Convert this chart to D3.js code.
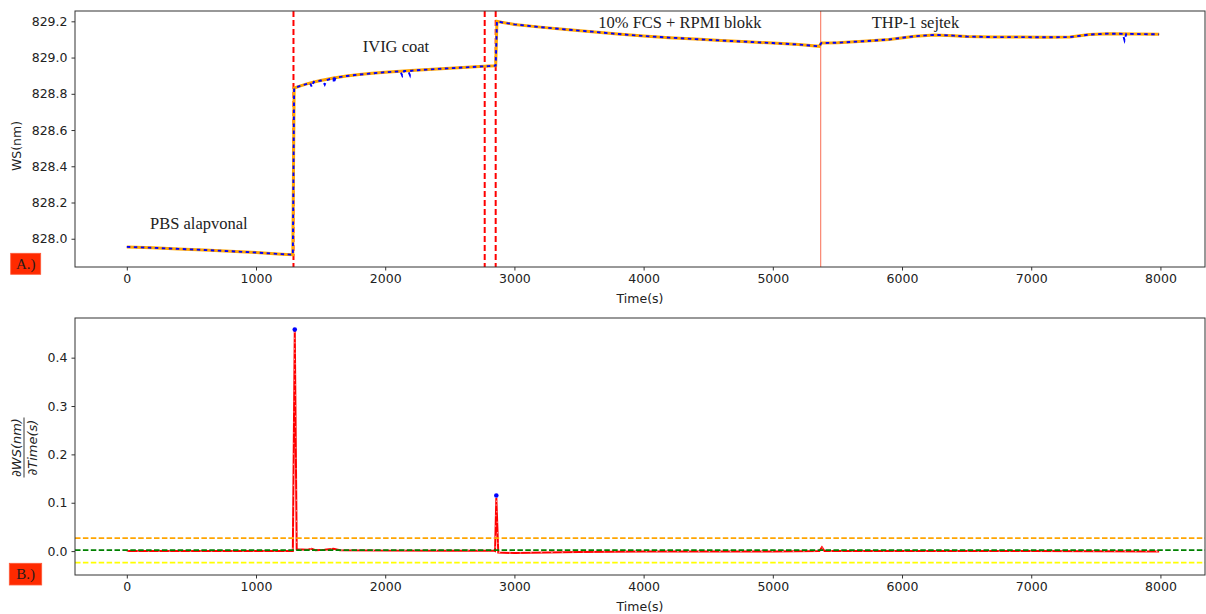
<!DOCTYPE html>
<html><head><meta charset="utf-8">
<script src="https://cdn.jsdelivr.net/npm/d3@7"></script>
<style>body{margin:0;background:#fff}svg{display:block}</style>
</head><body>
<svg id="c" width="1206" height="614"></svg>
<script>
// ---------- data ----------
const wsTime  = [0,200,400,600,800,1000,1200,1285,1295,1350,1400,1450,1500,1600,1700,1800,1900,2000,2200,2400,2600,2800,2855,2865,2900,3000,3200,3400,3600,3800,4000,4200,4400,4600,4800,5000,5200,5360,5375,5500,5700,5900,6100,6250,6400,6500,6700,6900,7100,7300,7450,7600,7800,7990];
const wsValue = [827.955,827.950,827.944,827.938,827.931,827.924,827.915,827.912,828.832,828.845,828.856,828.865,828.873,828.887,828.898,828.906,828.913,828.919,828.928,828.937,828.945,828.953,828.955,829.200,829.195,829.183,829.168,829.155,829.143,829.130,829.119,829.110,829.102,829.094,829.087,829.080,829.072,829.062,829.080,829.082,829.090,829.100,829.118,829.125,829.121,829.116,829.113,829.113,829.112,829.113,829.127,829.132,829.130,829.128];
// short dips only present in the raw (blue) trace
const dipTime  = [1418,1432,1446, 1518,1532,1546, 1588,1602,1616, 2118,2132,2146, 2178,2192,2206, 7708,7722,7736];
const dipValue = [828.859,828.838,828.866, 828.871,828.850,828.875, 828.885,828.860,828.889, 828.924,828.900,828.926, 828.926,828.902,828.928, 829.131,829.095,829.131];

const stepTimes  = [1290, 2770, 2855];   // red dashed markers
const cellTime   = [5370];               // salmon marker
const phaseLabels = ["PBS alapvonal","IVIG coat","10% FCS + RPMI blokk","THP-1 sejtek"];
const phaseTime   = [180, 1826, 3649, 5765];
const phaseValue  = [828.054, 829.033, 829.161, 829.165];

const dTime  = [0,500,1000,1270,1285,1300,1315,1400,1430,1460,1530,1600,1650,2000,2500,2840,2850,2860,2875,3000,3500,4000,5000,5360,5380,5400,6000,7000,7990];
const dValue = [0.000,0.000,0.000,0.000,0.000,0.457,0.004,0.003,0.005,0.002,0.003,0.005,0.002,0.001,0.001,0.001,0.000,0.110,-0.003,-0.004,-0.002,-0.001,-0.001,0.000,0.008,0.000,0.000,0.000,-0.001];
const peakTime  = [1300, 2860];
const peakValue = [0.458, 0.115];
const hLineValue = [0.027, 0.002, -0.024];
const hLineColor = ["orange", "green", "#ffff00"];

const xTicks  = [0,1000,2000,3000,4000,5000,6000,7000,8000];
const yTicksA = [828.0,828.2,828.4,828.6,828.8,829.0,829.2];
const yTicksB = [0.0,0.1,0.2,0.3,0.4];

// ---------- layout ----------
const svg = d3.select("#c");
const L = 75, R = 1205;
const A = {top: 11, bottom: 267};
const B = {top: 318, bottom: 575};
const x = d3.scaleLinear().domain([-401, 8345]).range([L, R]);
const yA = d3.scaleLinear().domain([827.844, 829.257]).range([A.bottom, A.top]);
const yB = d3.scaleLinear().domain([-0.0494, 0.482]).range([B.bottom, B.top]);
const tickFont = "DejaVu Sans";
const defs = svg.append("defs");
defs.append("clipPath").attr("id","clipA").append("rect").attr("x",L).attr("y",A.top).attr("width",R-L).attr("height",A.bottom-A.top);
defs.append("clipPath").attr("id","clipB").append("rect").attr("x",L).attr("y",B.top).attr("width",R-L).attr("height",B.bottom-B.top);

function axes(p, y, yTicks, fmt) {
  const gx = svg.append("g").attr("transform", `translate(0,${p.bottom})`)
    .call(d3.axisBottom(x).tickValues(xTicks).tickFormat(d3.format("d")).tickSizeOuter(0).tickSize(3.5).tickPadding(4));
  const gy = svg.append("g").attr("transform", `translate(${L},0)`)
    .call(d3.axisLeft(y).tickValues(yTicks).tickFormat(fmt).tickSizeOuter(0).tickSize(3.5).tickPadding(4));
  [gx, gy].forEach(g => {
    g.select(".domain").remove();
    g.selectAll("line").attr("stroke", "#333");
    g.selectAll("text").attr("font-family", tickFont).attr("font-size", 12.5).attr("fill", "#222");
  });
  svg.append("rect").attr("x", L).attr("y", p.top).attr("width", R - L).attr("height", p.bottom - p.top)
    .attr("fill", "none").attr("stroke", "#333").attr("stroke-width", 1);
  svg.append("text").attr("x", (L + R) / 2).attr("y", p.bottom + 36).attr("text-anchor", "middle")
    .attr("font-family", tickFont).attr("font-size", 12.5).attr("fill", "#222").text("Time(s)");
}

// ---------- panel A ----------
const gA = svg.append("g").attr("clip-path", "url(#clipA)");
stepTimes.forEach(t => gA.append("line").attr("x1", x(t)).attr("x2", x(t)).attr("y1", A.top).attr("y2", A.bottom)
  .attr("stroke", "red").attr("stroke-width", 2).attr("stroke-dasharray", "6,3"));
cellTime.forEach(t => gA.append("line").attr("x1", x(t)).attr("x2", x(t)).attr("y1", A.top).attr("y2", A.bottom)
  .attr("stroke", "#fa8c78").attr("stroke-width", 1.3));

const smooth = wsTime.map((t, i) => [t, wsValue[i]]);
const raw = smooth.concat(dipTime.map((t, i) => [t, dipValue[i]])).sort((a, b) => a[0] - b[0]);
const lineA = d3.line().x(d => x(d[0])).y(d => yA(d[1]));
gA.append("path").attr("d", lineA(smooth)).attr("fill", "none").attr("stroke", "orange").attr("stroke-width", 3);
gA.append("path").attr("d", lineA(raw)).attr("fill", "none").attr("stroke", "blue").attr("stroke-width", 1.9)
  .attr("stroke-dasharray", "3.5,3.5");

phaseLabels.forEach((s, i) => svg.append("text").attr("x", x(phaseTime[i])).attr("y", yA(phaseValue[i]))
  .attr("font-family", "Liberation Serif").attr("font-size", 16.5).attr("fill", "#222").text(s));

axes(A, yA, yTicksA, d3.format(".1f"));
svg.append("text").attr("transform", `translate(21,${(A.top + A.bottom) / 2 + 7}) rotate(-90)`)
  .attr("text-anchor", "middle").attr("font-family", tickFont).attr("font-size", 12.5).attr("fill", "#222").text("WS(nm)");

// ---------- panel B ----------
const gB = svg.append("g").attr("clip-path", "url(#clipB)");
const lineB = d3.line().x((d, i) => x(dTime[i])).y((d, i) => yB(dValue[i]));
gB.append("path").attr("d", lineB(dValue)).attr("fill", "none").attr("stroke", "red").attr("stroke-width", 2);
gB.append("path").attr("d", lineB(dValue)).attr("fill", "none").attr("stroke", "#ff9a9a").attr("stroke-width", 1)
  .attr("stroke-dasharray", "1.5,9");
hLineValue.forEach((v, i) => gB.append("line").attr("x1", L).attr("x2", R).attr("y1", yB(v)).attr("y2", yB(v))
  .attr("stroke", hLineColor[i]).attr("stroke-width", 1.7).attr("stroke-dasharray", "5.5,2.4"));
peakTime.forEach((t, i) => gB.append("circle").attr("cx", x(t)).attr("cy", yB(peakValue[i])).attr("r", 2.3).attr("fill", "blue"));

axes(B, yB, yTicksB, d3.format(".1f"));
const fr = svg.append("g").attr("transform", `translate(24,${(B.top + B.bottom) / 2 + 1}) rotate(-90)`)
  .attr("font-family", tickFont).attr("font-size", 13).attr("fill", "#222");
fr.append("text").attr("x", 0).attr("y", -3.5).attr("text-anchor", "middle").attr("font-style", "italic").text("∂WS(nm)");
fr.append("line").attr("x1", -30).attr("x2", 30).attr("y1", 0).attr("y2", 0).attr("stroke", "#222").attr("stroke-width", 0.9);
fr.append("text").attr("x", 0).attr("y", 12.5).attr("text-anchor", "middle").attr("font-style", "italic").text("∂Time(s)");

// ---------- panel tags ----------
const tags = [["A.)", 10.7, 253.3, 30, 21], ["B.)", 9.3, 563.3, 32.4, 21.7]];
tags.forEach(([s, tx, ty, w, h]) => {
  svg.append("rect").attr("x", tx).attr("y", ty).attr("width", w).attr("height", h).attr("fill", "#ff2a00").attr("stroke", "#ff5a3a").attr("stroke-width", 0.8);
  svg.append("text").attr("x", tx + w / 2).attr("y", ty + h / 2 + 5.2).attr("text-anchor", "middle")
    .attr("font-family", "Liberation Serif").attr("font-size", 15).attr("fill", "#2a1a1a").text(s);
});
</script>
</body></html>
